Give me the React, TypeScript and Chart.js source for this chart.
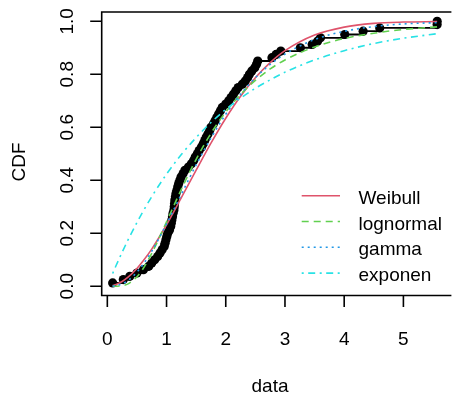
import React, { useEffect, useRef } from "react";
import { Chart, registerables } from "chart.js";

Chart.register(...registerables);

const observations = [
  0.09, 0.27, 0.38, 0.5, 0.61, 0.7, 0.75, 0.8, 0.85, 0.89,
  0.925, 0.96, 0.975, 0.99, 1.005, 1.02, 1.05, 1.07, 1.08, 1.09,
  1.1, 1.11, 1.125, 1.13, 1.135, 1.14, 1.15, 1.16, 1.175, 1.19,
  1.205, 1.225, 1.245, 1.28, 1.31, 1.37, 1.42, 1.46, 1.485, 1.52,
  1.55, 1.59, 1.62, 1.645, 1.67, 1.7, 1.73, 1.75, 1.79, 1.82,
  1.85, 1.88, 1.91, 1.94, 2.0, 2.05, 2.09, 2.13, 2.17, 2.21,
  2.28, 2.33, 2.37, 2.4, 2.44, 2.49, 2.52, 2.54, 2.78, 2.85,
  2.93, 3.26, 3.46, 3.55, 3.6, 4.01, 4.32, 4.6, 5.57, 5.57,
];

// Fitted CDF curves, values read at these x positions
const curveX = [0.09, 0.15, 0.25, 0.35, 0.5, 0.6, 0.75, 1.0, 1.25, 1.5, 1.75, 2.0, 2.25, 2.5, 2.75, 3.0, 3.5, 4.0, 4.5, 5.0, 5.57];
const weibullCdf = [0.0025, 0.0068, 0.018, 0.034, 0.067, 0.094, 0.14, 0.232, 0.334, 0.438, 0.54, 0.634, 0.717, 0.787, 0.844, 0.889, 0.948, 0.978, 0.992, 0.997, 0.999];
const lognormalCdf = [0.0, 0.0001, 0.0018, 0.0089, 0.036, 0.065, 0.124, 0.243, 0.366, 0.479, 0.577, 0.658, 0.724, 0.777, 0.82, 0.854, 0.903, 0.935, 0.955, 0.969, 0.979];
const gammaCdf = [0.0005, 0.0022, 0.0089, 0.0216, 0.053, 0.081, 0.132, 0.235, 0.347, 0.458, 0.559, 0.649, 0.724, 0.787, 0.837, 0.876, 0.931, 0.962, 0.98, 0.99, 0.995];
const exponCdf = [0.048, 0.079, 0.128, 0.175, 0.24, 0.281, 0.338, 0.423, 0.497, 0.561, 0.618, 0.667, 0.71, 0.747, 0.779, 0.808, 0.854, 0.889, 0.916, 0.936, 0.953];

const seriesNames = ["Weibull", "lognormal", "gamma", "exponen"];
const xTicks = [0, 1, 2, 3, 4, 5];
const xTickLabels = ["0", "1", "2", "3", "4", "5"];
const yTicks = [0, 0.2, 0.4, 0.6, 0.8, 1.0];
const yTickLabels = ["0.0", "0.2", "0.4", "0.6", "0.8", "1.0"];
const xTitle = "data";
const yTitle = "CDF";

const FONT = "'Liberation Sans', Arial, Helvetica, sans-serif";

export default function App() {
  const ref = useRef<HTMLCanvasElement>(null);

  useEffect(() => {
    const canvas = ref.current;
    if (!canvas) return;

    const toPts = (ys: number[]) => curveX.map((x, i) => ({ x, y: ys[i] }));
    const n = observations.length;
    const ecdfPts = observations.map((x, i) => ({ x, y: (i + 1) / n }));

    const curveStyles = [
      { color: "#DF536B", dash: [] as number[] },
      { color: "#61D04F", dash: [7, 5] },
      { color: "#2297E6", dash: [2, 4] },
      { color: "#28E2E5", dash: [2, 4.5, 7, 4.5] },
    ];
    const curveData = [weibullCdf, lognormalCdf, gammaCdf, exponCdf];

    const rPlugin = {
      id: "rStyleAxes",
      afterDraw(chart: any) {
        const ctx = chart.ctx as CanvasRenderingContext2D;
        const { left, right, top, bottom } = chart.chartArea;
        const xs = chart.scales.x;
        const ys = chart.scales.y;
        ctx.save();
        ctx.strokeStyle = "#000";
        ctx.lineWidth = 1.6;
        ctx.setLineDash([]);
        // box (right side is outside the picture)
        ctx.beginPath();
        ctx.moveTo(right + 4, top);
        ctx.lineTo(left, top);
        ctx.lineTo(left, bottom);
        ctx.lineTo(right + 4, bottom);
        ctx.stroke();
        // tick marks
        ctx.beginPath();
        xTicks.forEach((v) => {
          const px = xs.getPixelForValue(v);
          ctx.moveTo(px, bottom);
          ctx.lineTo(px, bottom + 11.5);
        });
        yTicks.forEach((v) => {
          const py = ys.getPixelForValue(v);
          ctx.moveTo(left, py);
          ctx.lineTo(left - 11.5, py);
        });
        ctx.stroke();

        ctx.fillStyle = "#000";
        ctx.font = `19px ${FONT}`;
        ctx.textAlign = "center";
        ctx.textBaseline = "alphabetic";
        xTicks.forEach((v, i) => {
          ctx.fillText(xTickLabels[i], xs.getPixelForValue(v), 345);
        });
        yTicks.forEach((v, i) => {
          ctx.save();
          ctx.translate(72.5, ys.getPixelForValue(v));
          ctx.rotate(-Math.PI / 2);
          ctx.fillText(yTickLabels[i], 0, 0);
          ctx.restore();
        });
        ctx.fillText(xTitle, 270, 392);
        ctx.save();
        ctx.translate(25, 162);
        ctx.rotate(-Math.PI / 2);
        ctx.fillText(yTitle, 0, 0);
        ctx.restore();

        // legend
        ctx.textAlign = "left";
        chart.data.datasets.slice(0, 4).forEach((ds: any, i: number) => {
          const ly = 195.7 + i * 25.8;
          ctx.strokeStyle = ds.borderColor;
          ctx.lineWidth = 1.6;
          ctx.setLineDash(ds.borderDash || []);
          ctx.beginPath();
          ctx.moveTo(301.7, ly);
          ctx.lineTo(340, ly);
          ctx.stroke();
          ctx.setLineDash([]);
          ctx.fillStyle = "#000";
          ctx.fillText(ds.label, 358.5, ly + 8);
        });
        ctx.restore();
      },
    };

    const datasets: any[] = curveData.map((arr, i) => ({
      label: seriesNames[i],
      data: toPts(arr),
      borderColor: curveStyles[i].color,
      borderDash: curveStyles[i].dash,
      borderWidth: 1.6,
      pointRadius: 0,
      fill: false,
      cubicInterpolationMode: "monotone",
      order: 4 - i,
    }));
    datasets.push({
      label: "empirical",
      data: ecdfPts,
      borderColor: "#000",
      backgroundColor: "#000",
      borderWidth: 1.8,
      stepped: true,
      pointRadius: 4.6,
      pointBorderWidth: 0,
      pointBackgroundColor: "#000",
      pointHoverRadius: 4.6,
      fill: false,
      order: 10,
    });

    const chart = new Chart(canvas, {
      type: "line",
      data: { datasets },
      options: {
        animation: false,
        responsive: false,
        events: [],
        layout: { padding: { left: 101.7, top: 12, right: 0, bottom: 105.5 } },
        plugins: { legend: { display: false }, tooltip: { enabled: false } },
        scales: {
          x: { type: "linear", min: -0.095, max: 5.743, display: false },
          y: { type: "linear", min: -0.035, max: 1.035, display: false },
        },
      },
      plugins: [rPlugin],
    } as any);

    return () => chart.destroy();
  }, []);

  return (
    <div style={{ position: "fixed", left: 0, top: 0, width: 452, height: 401, background: "#fff" }}>
      <canvas ref={ref} width={452} height={401} style={{ display: "block" }} />
    </div>
  );
}
